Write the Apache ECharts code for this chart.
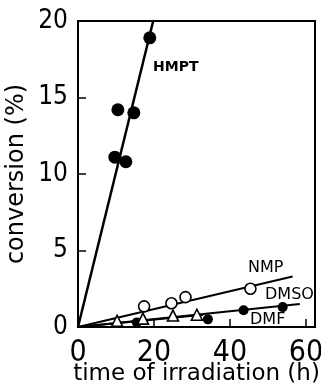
<!DOCTYPE html>
<html>
<head>
<meta charset="utf-8">
<script src="https://cdn.jsdelivr.net/npm/echarts@6/dist/echarts.min.js"></script>
<style>
  html, body { margin: 0; padding: 0; background: #fff; }
  #chart { width: 321px; height: 387px; }
</style>
</head>
<body>
<div id="chart"></div>
<script>
// measured points [time (h), conversion (%)]
const hmptPts = [[9.7, 11.1], [10.5, 14.2], [12.6, 10.8], [14.7, 14.0], [18.9, 18.9]];
const nmpPts = [[17.4, 1.35], [24.6, 1.55], [28.3, 1.95], [45.4, 2.5]];
const dmsoPts = [[15.5, 0.3], [34.2, 0.5], [43.6, 1.1], [53.9, 1.3]];
const dmfPts = [[10.3, 0.4], [17.1, 0.55], [25.0, 0.75], [31.3, 0.8]];

// fitted straight lines (endpoints)
const hmptFit = [[0, 0], [19.8, 20]];
const nmpFit = [[0, 0], [56.5, 3.3]];
const dmsoFit = [[0, 0], [58.4, 1.5]];
const dmfFit = [[0, 0], [33, 0.8]];

const xTicks = [0, 20, 40, 60];
const yTicks = [0, 5, 10, 15, 20];

const FONT = '"Liberation Sans Narrow", "DejaVu Sans Condensed", "DejaVu Sans", sans-serif';
const TEXT = '"DejaVu Sans", sans-serif';

const chart = echarts.init(document.getElementById("chart"), null, { renderer: "canvas" });

function fit(data, w) {
  return {
    type: "line", data, symbol: "none", silent: true, z: 1,
    lineStyle: { color: "#000", width: w },
  };
}

function pts(data, symbol, size, filled) {
  return {
    type: "scatter", data, symbol, symbolSize: size, z: 3,
    itemStyle: filled
      ? { color: "#000", opacity: 1 }
      : { color: "#fff", borderColor: "#000", borderWidth: 1.6, opacity: 1 },
  };
}

chart.setOption({
  backgroundColor: "#fff",
  animation: false,
  grid: {
    left: 78, right: 6, top: 21, bottom: 60,
    outerBoundsMode: "none", containLabel: false,
    show: true, borderColor: "#000", borderWidth: 2,
  },
  xAxis: {
    type: "value", min: 0, max: 62.4, interval: 20,
    name: "time of irradiation (h)", nameLocation: "middle", nameGap: 36,
    nameMoveOverlap: false,
    nameTextStyle: { color: "#000", fontFamily: TEXT, fontSize: 23, verticalAlign: "top" },
    axisLine: { lineStyle: { color: "#000", width: 2 } },
    axisTick: { inside: true, length: 8, lineStyle: { color: "#000", width: 1.5 } },
    axisLabel: {
      color: "#000", fontFamily: FONT, fontSize: 30, margin: 11,
      showMaxLabel: false,
      formatter: v => xTicks.includes(v) ? String(v) : "",
    },
    splitLine: { show: false },
  },
  yAxis: {
    type: "value", min: 0, max: 20, interval: 5,
    name: "conversion (%)", nameLocation: "middle", nameGap: 49,
    nameMoveOverlap: false,
    nameTextStyle: { color: "#000", fontFamily: TEXT, fontSize: 24 },
    axisLine: { lineStyle: { color: "#000", width: 2 } },
    axisTick: { inside: true, length: 8, lineStyle: { color: "#000", width: 1.5 } },
    axisLabel: {
      color: "#000", fontFamily: FONT, fontSize: 26, margin: 10,
      formatter: v => yTicks.includes(v) ? String(v) : "",
    },
    splitLine: { show: false },
  },
  graphic: [
    { type: "text", left: 153, top: 60, style: { text: "HMPT", font: "bold 14px " + TEXT, fill: "#000" } },
    { type: "text", left: 248, top: 260, style: { text: "NMP", font: "16px " + TEXT, fill: "#000" } },
    { type: "text", left: 265, top: 287, style: { text: "DMSO", font: "16px " + TEXT, fill: "#000" } },
    { type: "text", left: 250, top: 312, style: { text: "DMF", font: "16px " + TEXT, fill: "#000" } },
  ],
  series: [
    fit(hmptFit, 2.5),
    fit(nmpFit, 2),
    fit(dmsoFit, 2),
    fit(dmfFit, 2),
    pts(hmptPts, "circle", 13, true),
    pts(nmpPts, "circle", 11, false),
    pts(dmsoPts, "circle", 10, true),
    pts(dmfPts, "triangle", 11, false),
  ],
});
</script>
</body>
</html>
